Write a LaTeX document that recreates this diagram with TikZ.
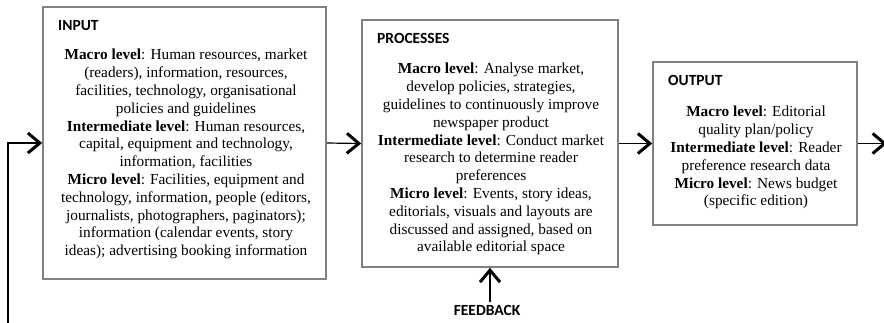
\documentclass[tikz,border=0pt]{standalone}
\usepackage{fontspec}
\setmainfont{Liberation Serif}
\newfontfamily\headfont{Carlito}
\usetikzlibrary{arrows.meta}
\tikzset{
  box/.style={draw=black!50, line width=1.6pt, minimum width=#1},
  head/.style={anchor=base west, inner sep=0pt, font=\headfont\fontsize{15.5}{17}\selectfont\bfseries},
  body/.style={anchor=north, inner sep=0pt, align=center, font=\fontsize{15.3}{17.8}\selectfont},
  flow/.style={line width=1.2pt, -{Straight Barb[length=12pt,width=20pt,line width=3pt]}}
}
\begin{document}
\begin{tikzpicture}[x=1pt,y=-1pt]
    \useasboundingbox (0,0) rectangle (884,322);
    \node[box=283pt, minimum height=272pt] (input) at (184.5,143) {};
    \node[box=256pt, minimum height=247pt] (proc) at (490,143.5) {};
    \node[box=204pt, minimum height=163pt] (output) at (755,143.5) {};
    \node[head] (inhead) at (58,30) {INPUT};
    \node[head] (prochead) at (377,43) {PROCESSES};
    \node[head] (outhead) at (668,85) {OUTPUT};
    \node[body] (inbody) at (186,49) {\textbf{Macro level}: Human resources, market\\
        (readers), information, resources,\\
        facilities, technology, organisational\\
        policies and guidelines\\
        \textbf{Intermediate level}: Human resources,\\
        capital, equipment and technology,\\
        information, facilities\\
        \textbf{Micro level}: Facilities, equipment and\\
        technology, information, people (editors,\\
        journalists, photographers, paginators);\\
        information (calendar events, story\\
        ideas); advertising booking information};
    \node[body] (procbody) at (491,63) {\textbf{Macro level}: Analyse market,\\
        develop policies, strategies,\\
        guidelines to continuously improve\\
        newspaper product\\
        \textbf{Intermediate level}: Conduct market\\
        research to determine reader\\
        preferences\\
        \textbf{Micro level}: Events, story ideas,\\
        editorials, visuals and layouts are\\
        discussed and assigned, based on\\
        available editorial space};
    \node[body] (outbody) at (756,106) {\textbf{Macro level}: Editorial\\
        quality plan/policy\\
        \textbf{Intermediate level}: Reader\\
        preference research data\\
        \textbf{Micro level}: News budget\\
        (specific edition)};
    \node[head, anchor=base] (fb) at (487,315) {FEEDBACK};
    \coordinate (loop) at (8,330);
    \coordinate (exit) at (887,143.5);
    \draw[flow] (loop) |- (input.west);
    \draw[flow] (input.east) -- (proc.west);
    \draw[flow] (proc.east) -- (output.west);
    \draw[flow] (output.east) -- (exit);
    \draw[flow] (fb.north -| proc.south) ++(0,-3) -- (proc.south);
\end{tikzpicture}
\end{document}
